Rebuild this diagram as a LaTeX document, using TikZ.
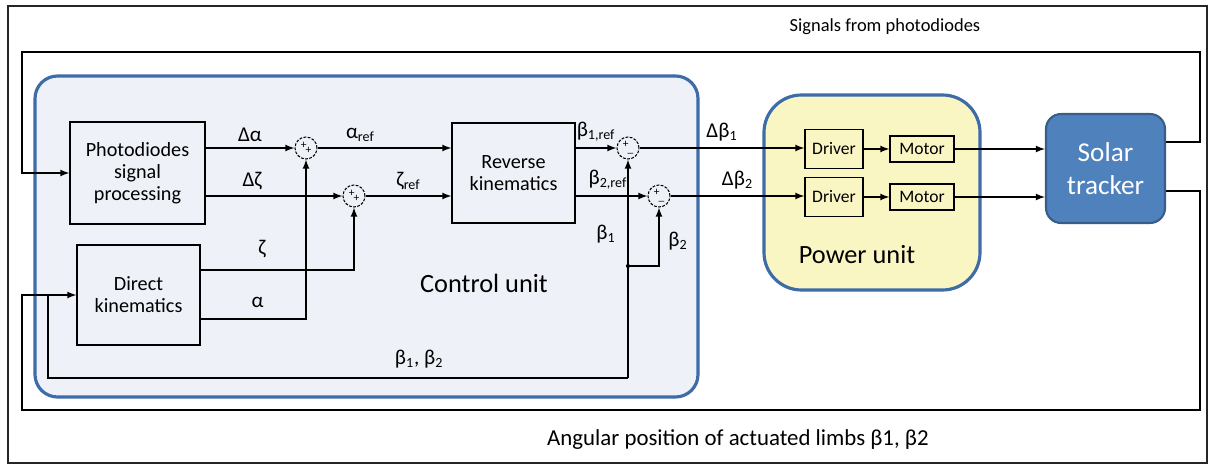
\documentclass[tikz,border=0pt]{standalone}
\usepackage{amsmath}
\usepackage{fontspec}
\setmainfont{Carlito}
\usepackage{tikz}

\definecolor{unitblue}{RGB}{61,108,168}
\definecolor{ctrlfill}{RGB}{238,242,248}
\definecolor{powfill}{RGB}{250,246,196}
\definecolor{trackfill}{RGB}{79,129,189}
\definecolor{trackline}{RGB}{56,93,138}

\tikzset{
	block/.style={draw,line width=0.7pt,align=center,inner sep=0pt,font=\fontsize{11.5}{12.5}\selectfont},
	smallblock/.style={draw,line width=0.7pt,inner sep=0pt,font=\fontsize{10}{12}\selectfont},
	sumnode/.style={draw,circle,line width=0.6pt,dash pattern=on 1.6pt off 0.8pt,minimum size=0.44cm,inner sep=0pt,font=\fontsize{6.5}{6}\selectfont},
	lbl/.style={font=\fontsize{12}{13}\selectfont},
}

\begin{document}
\begin{tikzpicture}[x=0.02cm,y=-0.02cm,>=latex,line width=0.8pt]
	\useasboundingbox (0,0) rectangle (1211,466);
	\draw[line width=1pt,black!85] (8,6) rectangle (1207,463);
	% units
	\draw[unitblue,line width=1.8pt,fill=ctrlfill,rounded corners=0.45cm] (35,76) rectangle (698,397);
	\draw[unitblue,line width=1.8pt,fill=powfill,rounded corners=0.75cm] (764,95) rectangle (980,290);
	\node[font=\fontsize{15}{18}\selectfont] (ctrltext) at (484,283) {Control unit};
	\node[font=\fontsize{15}{18}\selectfont] (powtext) at (857,255) {Power unit};

	% blocks
	\node[block,minimum width=2.7cm,minimum height=2.04cm] (photo) at (137.5,173) {Photodiodes\\signal\\processing};
	\node[block,minimum width=2.46cm,minimum height=2cm] (revkin) at (513.5,173) {Reverse\\kinematics};
	\node[block,minimum width=2.46cm,minimum height=2cm] (dirkin) at (138.5,295) {Direct\\kinematics};
	\node[sumnode] (sumA) at (306,148) {\raisebox{1.2pt}{+}\kern-0.5pt\raisebox{-1.6pt}{+}};
	\node[sumnode] (sumZ) at (354,196) {\raisebox{1.2pt}{+}\kern-0.5pt\raisebox{-1.6pt}{+}};
	\node[sumnode] (sumB1) at (628,148) {\raisebox{1.2pt}{+}\kern-0.5pt\raisebox{-1.6pt}{\_}};
	\node[sumnode] (sumB2) at (659,196) {\raisebox{1.2pt}{+}\kern-0.5pt\raisebox{-1.6pt}{\_}};
	\node[smallblock,minimum width=1.16cm,minimum height=0.78cm] (drv1) at (834,149) {Driver};
	\node[smallblock,minimum width=1.28cm,minimum height=0.52cm] (mot1) at (922,149) {Motor};
	\node[smallblock,minimum width=1.16cm,minimum height=0.78cm] (drv2) at (834,197) {Driver};
	\node[smallblock,minimum width=1.28cm,minimum height=0.52cm] (mot2) at (922,197) {Motor};
	\node[draw=trackline,line width=1.2pt,fill=trackfill,rounded corners=0.3cm,minimum width=2.38cm,minimum height=2.18cm,
		align=center,text=white,font=\fontsize{15.5}{19}\selectfont] (tracker) at (1105.5,168.5) {Solar\\tracker};

	% forward path
	\draw[->] (photo.east |- sumA) -- (sumA) node[lbl,midway,above] (la) {Δα};
	\draw[->] (photo.east |- sumZ) -- (sumZ) node[lbl,pos=0.34,above] (lz) {Δζ};
	\draw[->] (sumA) -- (revkin.west |- sumA) node[lbl,pos=0.32,above] (lar) {α\textsubscript{ref}};
	\draw[->] (sumZ) -- (revkin.west |- sumZ) node[lbl,midway,above] (lzr) {ζ\textsubscript{ref}};
	\draw[->] (revkin.east |- sumB1) -- (sumB1) node[lbl,midway,above] (lb1r) {β\textsubscript{1,ref}};
	\draw[->] (revkin.east |- sumB2) -- (sumB2) node[lbl,pos=0.45,above] (lb2r) {β\textsubscript{2,ref}};
	\draw[->] (sumB1) -- (drv1.west |- sumB1) node[lbl,midway,above] (ldb1) {Δβ\textsubscript{1}};
	\draw[->] (sumB2) -- (drv2.west |- sumB2) node[lbl,midway,above] (ldb2) {Δβ\textsubscript{2}};
	\draw[->] (drv1) -- (mot1);
	\draw[->] (drv2) -- (mot2);
	\draw[->] (mot1) -- (tracker.west |- mot1);
	\draw[->] (mot2) -- (tracker.west |- mot2);

	% inner loops
	\draw[->] (dirkin.east |- 0,270) -| (sumZ) node[lbl,pos=0.2,above=3pt] (lzeta) {ζ};
	\draw[->] (dirkin.east |- 0,319) -| (sumA) node[lbl,pos=0.27,above=3pt] (lalpha) {α};
	\draw[->] (sumB1 |- 0,378) -- (sumB1);
	\draw[->] (sumB1 |- 0,266) -| (sumB2);
	\fill (sumB1 |- 0,266) circle (1.2pt);
	\draw (sumB1 |- 0,378) -| (48,295) node[lbl,pos=0.18,above=2pt] (lbb) {β\textsubscript{1}, β\textsubscript{2}};
	\node[lbl] (lb1) at (606,234) {β\textsubscript{1}};
	\node[lbl] (lb2) at (678,241) {β\textsubscript{2}};

	% outer loops
	\draw[->] (tracker.east |- 0,142) -| (1200,52) -| (22,173) -- (photo.west);
	\draw[->] (tracker.east |- 0,191) -| (1200,410) -| (22,295) -- (dirkin.west);
	\node[font=\fontsize{10.5}{12}\selectfont] (topnote) at (885,27) {Signals from photodiodes};
	\node[font=\fontsize{13}{14}\selectfont] (botnote) at (738,440) {Angular position of actuated limbs β1, β2};
\end{tikzpicture}
\end{document}
